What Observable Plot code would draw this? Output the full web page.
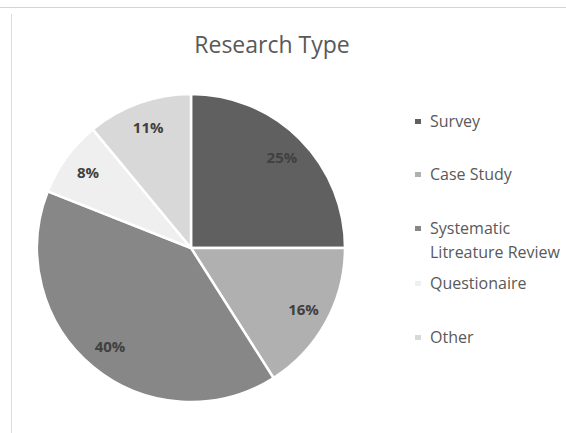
<!DOCTYPE html>
<html>
<head>
<meta charset="utf-8">
<script src="https://cdn.jsdelivr.net/npm/d3@7"></script>
<script src="https://cdn.jsdelivr.net/npm/@observablehq/plot@0.6"></script>
<style>
  html, body { margin: 0; padding: 0; background: #fff; }
  #wrap { position: relative; width: 566px; height: 433px; overflow: hidden; font-family: "Open Sans", sans-serif; }
  #wrap svg { position: absolute; left: 0; top: 0; }
  .topline { position: absolute; left: 0; top: 7px; width: 566px; height: 1px; background: #d4d4d4; }
  .leftline { position: absolute; left: 11px; top: 14px; width: 1px; height: 419px; background: #dcdcdc; }
  .title { position: absolute; width: 566px; top: 29px; text-align: center; font-size: 23px; color: #595959; line-height: 30px; left: -11px; }
  .item { position: absolute; left: 415px; color: #595959; font-size: 16px; line-height: 24px; white-space: nowrap; }
  .item .sw { position: absolute; left: 0; width: 6px; height: 5px; }
  .item .lbl { position: absolute; left: 15px; }
</style>
</head>
<body>
<div id="wrap">
  <div class="topline"></div>
  <div class="leftline"></div>
</div>
<script>
const categories = ["Survey", "Case Study", "Systematic Litreature Review", "Questionaire", "Other"];
const legendLines = [["Survey"], ["Case Study"], ["Systematic", "Litreature Review"], ["Questionaire"], ["Other"]];
const values = [25, 16, 40, 8, 11];
const colors = ["#606060", "#b0b0b0", "#878787", "#efefef", "#d8d8d8"];
const title = "Research Type";

const data = categories.map((c, i) => ({category: c, value: values[i]}));
const total = d3.sum(values);
const arcs = d3.pie().sort(null).value(d => d.value)(data);
const labelR = 0.83;
const labels = arcs.map(a => {
  const m = (a.startAngle + a.endAngle) / 2;
  return {x: labelR * Math.sin(m), y: labelR * Math.cos(m), text: Math.round(a.data.value / total * 100) + "%"};
});

const W = 566, H = 433, cx = 191, cy = 248, R = 154;

const pieMark = (index, scales) => {
  const x0 = scales.x(0), y0 = scales.y(0);
  const r = scales.x(1) - scales.x(0);
  const arc = d3.arc().innerRadius(0).outerRadius(r);
  const g = d3.create("svg:g").attr("transform", `translate(${x0},${y0})`);
  g.selectAll("path").data(arcs).join("path")
    .attr("d", arc)
    .attr("fill", (d, i) => colors[i])
    .attr("stroke", "#fff")
    .attr("stroke-width", 2.5)
    .attr("stroke-linejoin", "round");
  return g.node();
};

const chart = Plot.plot({
  width: W,
  height: H,
  margin: 0,
  x: {domain: [-cx / R, (W - cx) / R], axis: null},
  y: {domain: [-(H - cy) / R, cy / R], axis: null},
  style: {background: "transparent", fontFamily: "'Open Sans', sans-serif"},
  marks: [
    pieMark,
    Plot.text(labels, {x: "x", y: "y", text: "text", fill: "#404040", fontSize: 15, fontWeight: "bold"})
  ]
});

const wrap = document.getElementById("wrap");
wrap.appendChild(chart);

const t = document.createElement("div");
t.className = "title";
t.textContent = title;
wrap.appendChild(t);

const centers = [121, 174, 228, 283, 337];
legendLines.forEach((lines, i) => {
  const item = document.createElement("div");
  item.className = "item";
  item.style.top = (centers[i] - 12) + "px";
  const sw = document.createElement("div");
  sw.className = "sw";
  sw.style.top = "10px";
  sw.style.background = colors[i];
  item.appendChild(sw);
  const lbl = document.createElement("div");
  lbl.className = "lbl";
  lbl.innerHTML = lines.join("<br>");
  item.appendChild(lbl);
  wrap.appendChild(item);
});
</script>
</body>
</html>
